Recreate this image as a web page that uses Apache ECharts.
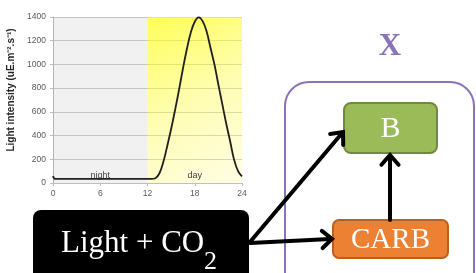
<!DOCTYPE html>
<html>
<head>
<meta charset="utf-8">
<script src="https://cdn.jsdelivr.net/npm/echarts@6/dist/echarts.min.js"></script>
<style>
  html, body { margin: 0; padding: 0; background: #fff; }
  #chart { width: 476px; height: 273px; }
</style>
</head>
<body>
<div id="chart"></div>
<script>
// hours of the day and light intensity
const hours = [0, 0.3, 3, 6, 9, 12, 12.5, 13, 13.5, 14, 14.5, 15, 15.5, 16, 16.5, 17, 17.5,
    18, 18.5, 19, 19.5, 20, 20.5, 21, 21.5, 22, 22.5, 23, 23.5, 24];
const light = [60, 34, 34, 34, 34, 34, 34, 40, 80, 175, 310, 455, 615, 785, 965, 1130, 1270,
    1360, 1397, 1365, 1280, 1140, 1000, 830, 665, 500, 350, 195, 100, 55];
const xTicks = [0, 6, 12, 18, 24];
const periods = [
    {name: 'night', from: 0, to: 12},
    {name: 'day', from: 12, to: 24}
];

const serif = '"Liberation Serif", "DejaVu Serif", serif';

// open chevron arrow, line + head
function arrow(x1, y1, x2, y2) {
    const len = Math.hypot(x2 - x1, y2 - y1);
    const dx = (x2 - x1) / len, dy = (y2 - y1) / len;
    const L = 13, a = 0.72;
    const rot = (s) => [
        x2 - L * (dx * Math.cos(a) - s * dy * Math.sin(a)),
        y2 - L * (dy * Math.cos(a) + s * dx * Math.sin(a))
    ];
    const st = {stroke: '#000', lineWidth: 4, lineCap: 'round', lineJoin: 'miter', fill: null};
    return [
        {type: 'polyline', shape: {points: [[x1, y1], [x2 - dx * 2, y2 - dy * 2]]}, style: st},
        {type: 'polyline', shape: {points: [rot(1), [x2, y2], rot(-1)]}, style: st}
    ];
}

function label(text, x, y, size, color, weight) {
    return {
        type: 'text',
        style: {
            text, x, y,
            font: (weight || 'normal') + ' ' + size + 'px ' + serif,
            fill: color,
            textAlign: 'center', align: 'center',
            textVerticalAlign: 'middle', verticalAlign: 'middle'
        }
    };
}

const chart = echarts.init(document.getElementById('chart'));

const option = {
    animation: false,
    grid: {left: 53, right: 234, top: 17, bottom: 90},
    xAxis: {
        type: 'value',
        min: 0,
        max: 24,
        interval: 6,
        axisLine: {lineStyle: {color: '#bfbfbf'}},
        axisTick: {show: true, length: 3, lineStyle: {color: '#bfbfbf'}},
        axisLabel: {fontSize: 8.5, color: '#595959', margin: 6, fontFamily: 'Liberation Sans',
            formatter: (v) => xTicks.includes(v) ? String(v) : ''},
        splitLine: {show: false}
    },
    yAxis: {
        type: 'value',
        min: 0,
        max: 1400,
        interval: 200,
        name: 'Light intensity (uE.m⁻².s⁻¹)',
        nameLocation: 'middle',
        nameGap: 37,
        nameTextStyle: {fontSize: 10, color: '#262626', fontWeight: 'bold',
            fontFamily: 'Liberation Sans', padding: [0, 0, 0, 20]},
        axisLine: {show: true, lineStyle: {color: '#bfbfbf'}},
        axisTick: {show: true, length: 3, lineStyle: {color: '#bfbfbf'}},
        axisLabel: {fontSize: 8.5, color: '#595959', margin: 7, fontFamily: 'Liberation Sans',
            formatter: (v) => String(v)},
        splitLine: {lineStyle: {color: '#d0d0d0'}}
    },
    series: [
        {
            type: 'line',
            data: hours.map((h, i) => [h, light[i]]),
            smooth: 0.4,
            showSymbol: false,
            lineStyle: {color: '#1f1f1f', width: 1.8},
            markArea: {
                silent: true,
                label: {position: 'insideBottom', distance: 3, fontSize: 9,
                    color: '#404040', fontFamily: 'Liberation Sans'},
                data: periods.map((p, i) => [
                    {
                        name: p.name,
                        xAxis: p.from,
                        itemStyle: {
                            // translucent so the grid lines show through
                            color: i === 0 ? 'rgba(0,0,0,0.055)' : {
                                type: 'linear', x: 0, y: 0, x2: 1, y2: 1,
                                colorStops: [
                                    {offset: 0, color: 'rgba(255,255,0,0.66)'},
                                    {offset: 0.5, color: 'rgba(255,250,0,0.3)'},
                                    {offset: 1, color: 'rgba(255,245,0,0.1)'}
                                ]
                            }
                        }
                    },
                    {xAxis: p.to}
                ])
            }
        }
    ],
    graphic: [
        // X box
        {type: 'rect', shape: {x: 285, y: 82, width: 189, height: 230, r: 24},
            style: {fill: 'none', stroke: '#8b73b8', lineWidth: 2}},
        label('X', 390, 47, 31, '#8b73b8', 'bold'),
        // B box
        {type: 'rect', shape: {x: 344, y: 103, width: 93, height: 50, r: 7},
            style: {fill: '#9bbb59', stroke: '#71893f', lineWidth: 2}},
        label('B', 390.5, 129, 30, '#fff'),
        // CARB box
        {type: 'rect', shape: {x: 333, y: 220, width: 115, height: 38, r: 6},
            style: {fill: '#ec8133', stroke: '#b5621f', lineWidth: 2}},
        label('CARB', 390.5, 240, 29, '#fff'),
        // Light + CO2 box
        {type: 'rect', shape: {x: 33, y: 210, width: 216, height: 80, r: 8},
            style: {fill: '#000'}},
        {type: 'text', style: {text: 'Light + CO', x: 61, y: 244, fill: '#fff',
            font: '31px ' + serif, textAlign: 'left', align: 'left',
            textVerticalAlign: 'middle', verticalAlign: 'middle'}},
        {type: 'text', style: {text: '2', x: 204, y: 262, fill: '#fff',
            font: '26px ' + serif, textAlign: 'left', align: 'left',
            textVerticalAlign: 'middle', verticalAlign: 'middle'}},
        ...arrow(250, 242, 343, 132),
        ...arrow(250, 243, 332, 239),
        ...arrow(390, 220, 390, 155)
    ]
};

chart.setOption(option);
</script>
</body>
</html>
